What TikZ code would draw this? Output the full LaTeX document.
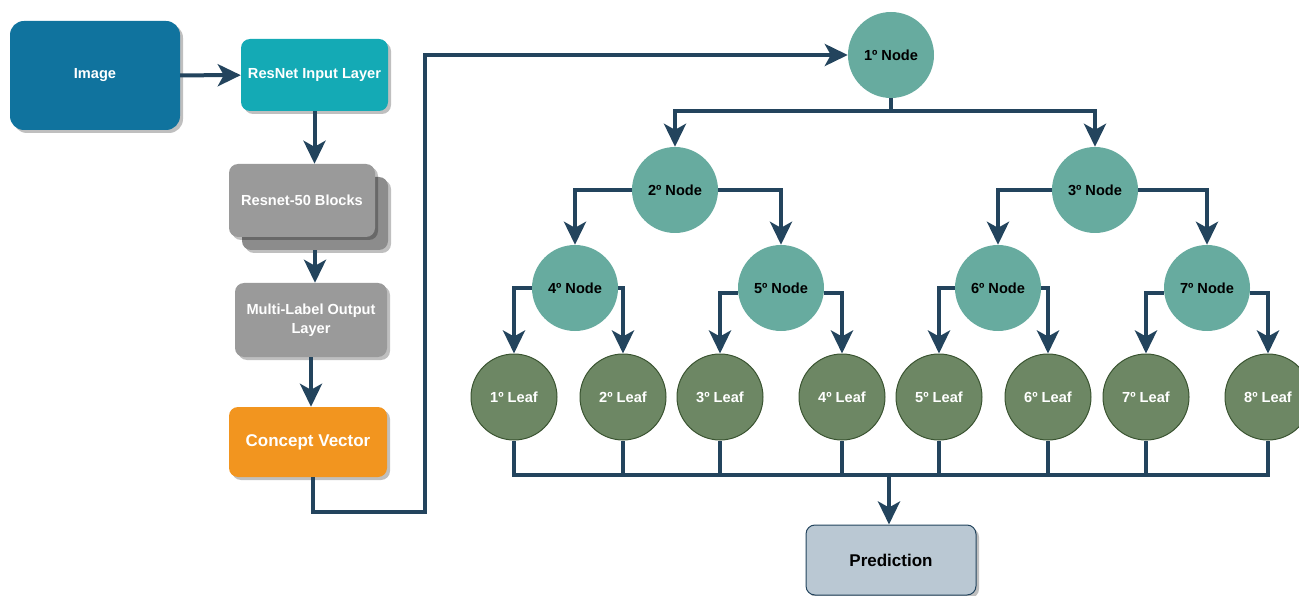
\documentclass[tikz,border=0pt]{standalone}
\usepackage{fontspec}
\setmainfont{Liberation Sans}
\usetikzlibrary{arrows.meta,shadows,calc}
\definecolor{connc}{HTML}{23445D}
\definecolor{imgblue}{HTML}{10739E}
\definecolor{tealbox}{HTML}{14AAB5}
\definecolor{grayfront}{HTML}{9A9A9A}
\definecolor{grayback}{HTML}{8C8C8C}
\definecolor{orangebox}{HTML}{F2951F}
\definecolor{predfill}{HTML}{BAC8D3}
\definecolor{nodefill}{HTML}{67AB9F}
\definecolor{leaffill}{HTML}{6D8764}
\definecolor{leafdraw}{HTML}{3A5431}
\begin{document}
\begin{tikzpicture}[x=1pt,y=-1pt,
  sh/.style={drop shadow={shadow xshift=3pt,shadow yshift=-3pt,opacity=0.25,fill=black}},
  box/.style={rectangle,rounded corners=9pt,text=white,align=center,inner sep=0pt,
    font=\bfseries\fontsize{14.6}{19}\selectfont,sh},
  circ/.style={circle,minimum size=86pt,inner sep=0pt,font=\bfseries\fontsize{14.6}{17}\selectfont},
  tnode/.style={circ,fill=nodefill,text=black},
  leaf/.style={circ,fill=leaffill,draw=leafdraw,line width=1pt,text=white},
  conn/.style={draw=connc,line width=4pt,-{Stealth[length=23pt,width=22pt,inset=6pt]}},
  wire/.style={draw=connc,line width=4pt}
]
\useasboundingbox (0,0) rectangle (1299,596);

% left column
\node[box,fill=imgblue,rounded corners=14pt,minimum width=170pt,minimum height=109pt] (img) at (95,75.5) {Image};
\node[box,fill=tealbox,minimum width=147pt,minimum height=72pt] (ri) at (314.5,75) {ResNet Input Layer};
\node[box,fill=grayback,minimum width=146pt,minimum height=73pt] (rb2) at (315,213.5) {};
\node[box,fill=grayfront,minimum width=146pt,minimum height=73pt] (rb) at (302,200.5) {Resnet-50 Blocks};
\node[box,fill=grayfront,minimum width=152pt,minimum height=74pt] (ml) at (311,320) {Multi-Label Output\\Layer};
\node[box,fill=orangebox,minimum width=158pt,minimum height=70pt,font=\bfseries\fontsize{17}{20}\selectfont] (cv) at (308,442) {Concept Vector};
\node[box,fill=predfill,draw=connc,line width=1pt,text=black,minimum width=170pt,minimum height=70pt,font=\bfseries\fontsize{17}{20}\selectfont] (pred) at (891,560) {Prediction};

% tree nodes
\node[tnode] (n1) at (891,55) {1º Node};
\node[tnode] (n2) at (675,190) {2º Node};
\node[tnode] (n3) at (1095,190) {3º Node};
\node[tnode] (n4) at (575,288) {4º Node};
\node[tnode] (n5) at (781,288) {5º Node};
\node[tnode] (n6) at (998,288) {6º Node};
\node[tnode] (n7) at (1207,288) {7º Node};

% leaves
\node[leaf] (l1) at (514,397) {1º Leaf};
\node[leaf] (l2) at (623,397) {2º Leaf};
\node[leaf] (l3) at (720,397) {3º Leaf};
\node[leaf] (l4) at (842,397) {4º Leaf};
\node[leaf] (l5) at (939,397) {5º Leaf};
\node[leaf] (l6) at (1048,397) {6º Leaf};
\node[leaf] (l7) at (1146,397) {7º Leaf};
\node[leaf] (l8) at (1268,397) {8º Leaf};

% left column connectors
\draw[conn] (img) -- (ri);
\draw[conn] (ri.south) -- (ri.south |- rb.north);
\draw[conn] (rb2.south) -- (rb2.south |- ml.north);
\draw[conn] (ml.south) -- (ml.south |- cv.north);

% concept vector to 1st node
\coordinate (c0) at (313,477);
\coordinate (c1) at (313,512);
\coordinate (c2) at (425,512);
\coordinate (c3) at (425,55);
\draw[conn] (c0) -- (c1) -- (c2) -- (c3) -- (n1);

% tree connectors
\coordinate (b1) at (891,111);
\draw[conn] (n1) -- (b1) -| (n2);
\draw[conn] (b1) -| (n3);
\draw[conn] (n2.west) -| (n4);
\draw[conn] (n2.east) -| (n5);
\draw[conn] (n3.west) -| (n6);
\draw[conn] (n3.east) -| (n7);
\draw[conn] (n4.west) -| (l1);
\draw[conn] (n4.east) -| (l2);
\draw[conn] ($(n5.west)+(0,5)$) -| (l3);
\draw[conn] ($(n5.east)+(0,5)$) -| (l4);
\draw[conn] (n6.west) -| (l5);
\draw[conn] (n6.east) -| (l6);
\draw[conn] ($(n7.west)+(0,5)$) -| (l7);
\draw[conn] ($(n7.east)+(0,5)$) -| (l8);

% bus to prediction
\coordinate (bus) at (889,475);
\draw[wire] (l1.south) |- (bus) -| (l8.south);
\foreach \l in {l2,l3,l4,l5,l6,l7} {\draw[wire] (\l.south) -- (\l.south |- bus);}
\draw[conn] (bus) -- (bus |- pred.north);
\end{tikzpicture}
\end{document}
